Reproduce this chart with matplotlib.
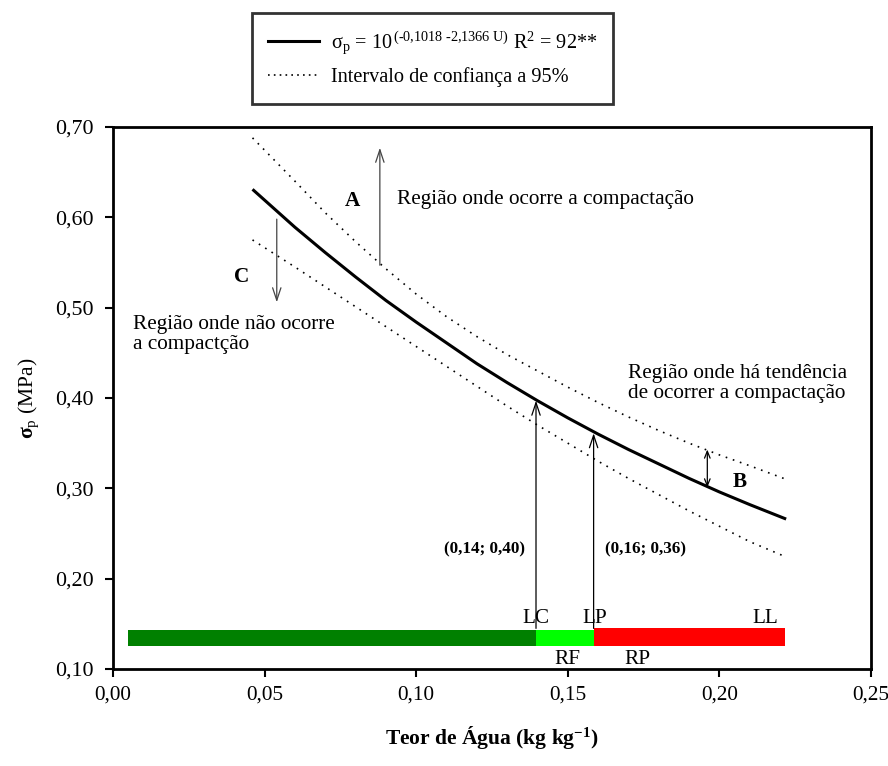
import numpy as np
import matplotlib
matplotlib.use("Agg")
import matplotlib.pyplot as plt
from matplotlib.lines import Line2D

plt.rcParams['font.family'] = ['Liberation Serif', 'DejaVu Serif']
plt.rcParams['mathtext.fontset'] = 'custom'
plt.rcParams['mathtext.rm'] = 'Liberation Serif'
plt.rcParams['mathtext.it'] = 'Liberation Serif:italic'
plt.rcParams['mathtext.bf'] = 'Liberation Serif:bold'

# fitted curve (teor de agua U, sigma_p)
u_fit = [0.046, 0.05, 0.06, 0.07, 0.08, 0.09, 0.10, 0.11, 0.12, 0.13, 0.14,
         0.15, 0.16, 0.17, 0.18, 0.19, 0.20, 0.21, 0.222]
sig_fit = [0.631, 0.619, 0.589, 0.561, 0.534, 0.508, 0.484, 0.461, 0.438, 0.417, 0.397,
           0.378, 0.360, 0.343, 0.327, 0.311, 0.296, 0.282, 0.266]
# 95% confidence band
u_ic = [0.046, 0.06, 0.07, 0.08, 0.09, 0.10, 0.11, 0.12, 0.13, 0.14,
        0.15, 0.16, 0.17, 0.18, 0.19, 0.20, 0.21, 0.222]
sig_sup = [0.688, 0.640, 0.605, 0.573, 0.543, 0.515, 0.490, 0.468, 0.448, 0.430,
           0.412, 0.395, 0.379, 0.364, 0.350, 0.337, 0.325, 0.310]
sig_inf = [0.575, 0.545, 0.523, 0.501, 0.479, 0.457, 0.435, 0.413, 0.391, 0.370,
           0.350, 0.330, 0.311, 0.293, 0.275, 0.258, 0.241, 0.224]

# limites de consistencia
lim_names = ['LC', 'LP', 'LL']
lim_u = [0.1395, 0.1585, 0.2215]
lim_sig = [0.397, 0.361]
faixa_ini = [0.005, 0.1395, 0.1585]
faixa_fim = [0.1395, 0.1585, 0.2215]
faixa_cor = ['#008000', '#00ff00', '#ff0000']

xticks = [0.0, 0.05, 0.10, 0.15, 0.20, 0.25]
xtick_labels = ['0,00', '0,05', '0,10', '0,15', '0,20', '0,25']
yticks = [0.1, 0.2, 0.3, 0.4, 0.5, 0.6, 0.7]
ytick_labels = ['0,10', '0,20', '0,30', '0,40', '0,50', '0,60', '0,70']

fs = 15.3

fig = plt.figure(figsize=(8.88, 7.66), dpi=100)
ax = fig.add_axes([0.1273, 0.1266, 0.8536, 0.7076])

ax.plot(u_fit, sig_fit, color='k', lw=2.2, solid_capstyle='butt', solid_joinstyle='round')
ax.plot(u_ic, sig_sup, color='k', lw=1.2, ls=(0, (1, 3.5)))
ax.plot(u_ic, sig_inf, color='k', lw=1.2, ls=(0, (1, 3.5)))

# faixas (RF, RP)
for a, b, c in zip(faixa_ini, faixa_fim, faixa_cor):
    h = 0.020 if c == '#ff0000' else 0.018
    ax.barh(0.1355 if c == '#ff0000' else 0.1345, b - a, left=a, height=h,
            color=c, edgecolor='none', zorder=2)

arrow = '->,head_length=0.9,head_width=0.3'
# LC / LP arrows
for u0, s0 in zip(lim_u[:2], lim_sig):
    ax.annotate('', xy=(u0, s0), xytext=(u0, 0.145),
                arrowprops=dict(arrowstyle=arrow, lw=0.9, color='k',
                                shrinkA=0, shrinkB=0), zorder=3)

# region A
ax.annotate('', xy=(0.088, 0.677), xytext=(0.088, 0.547),
            arrowprops=dict(arrowstyle=arrow, lw=0.9, color='#444444',
                            shrinkA=0, shrinkB=0))
ax.text(0.079, 0.618, 'A', fontsize=fs, fontweight='bold', ha='center', va='center')
ax.text(0.0937, 0.620, 'Região onde ocorre a compactação', fontsize=fs,
        ha='left', va='center')

# region C
ax.annotate('', xy=(0.054, 0.506), xytext=(0.054, 0.598),
            arrowprops=dict(arrowstyle=arrow, lw=0.9, color='#444444',
                            shrinkA=0, shrinkB=0))
ax.text(0.0425, 0.534, 'C', fontsize=fs, fontweight='bold', ha='center', va='center')
ax.text(0.0066, 0.470, 'Região onde não ocorre\na compactção', fontsize=fs,
        ha='left', va='center', linespacing=1.1)

# region B
ax.annotate('', xy=(0.196, 0.343), xytext=(0.196, 0.301),
            arrowprops=dict(arrowstyle='<->,head_length=0.5,head_width=0.2', lw=0.9,
                            color='k', shrinkA=0, shrinkB=0))
ax.text(0.2068, 0.307, 'B', fontsize=fs, fontweight='bold', ha='center', va='center')
ax.text(0.170, 0.416, 'Região onde há tendência\nde ocorrer a compactação', fontsize=fs,
        ha='left', va='center', linespacing=1.1)

ax.text(0.1359, 0.232, '(0,14; 0,40)', fontsize=12.3, fontweight='bold', ha='right', va='center')
ax.text(0.1622, 0.232, '(0,16; 0,36)', fontsize=12.3, fontweight='bold', ha='left', va='center')

for name, u0 in zip(lim_names, [0.1395, 0.1590, 0.2150]):
    ax.text(u0, 0.156, name, fontsize=fs, ha='center', va='center')
ax.text(0.1497, 0.110, 'RF', fontsize=fs, ha='center', va='center')
ax.text(0.1730, 0.110, 'RP', fontsize=fs, ha='center', va='center')

ax.set_xlim(0, 0.25)
ax.set_ylim(0.1, 0.7)
ax.set_xticks(xticks)
ax.set_xticklabels(xtick_labels)
ax.set_yticks(yticks)
ax.set_yticklabels(ytick_labels)
ax.tick_params(direction='out', length=6, width=1.5, labelsize=fs, pad=6)
ax.tick_params(axis='y', labelsize=15.8, pad=8)
for sp in ax.spines.values():
    sp.set_linewidth(2)

ax.set_xlabel('Teor de Água (kg kg$^{\\mathbf{-1}}$)', fontsize=15.5, fontweight='bold',
              labelpad=14)
ax.set_ylabel('$\\mathbf{\\sigma}_\\mathrm{p}$ (MPa)', fontsize=15.5, labelpad=10)

handles = [Line2D([], [], color='k', lw=2.2),
           Line2D([], [], color='k', lw=1.2, ls=(0, (1, 2.5)))]
labels = ['$\\mathrm{\\sigma_p}$ = 10$^{\\,\\text{(-0,1018 -2,1366 U)}}$ R$^2$ = 92**',
          'Intervalo de confiança a 95%']
leg = fig.legend(handles, labels, loc='upper center',
                 bbox_to_anchor=(432.5 / 888, 1 - 13 / 766),
                 fontsize=14.6, frameon=True, fancybox=False,
                 handlelength=2.5, handletextpad=0.6, labelspacing=0.55,
                 borderpad=0.8, borderaxespad=0)
leg.get_frame().set_edgecolor('k')
leg.get_frame().set_linewidth(2)

fig.savefig('out.png', dpi=100)
